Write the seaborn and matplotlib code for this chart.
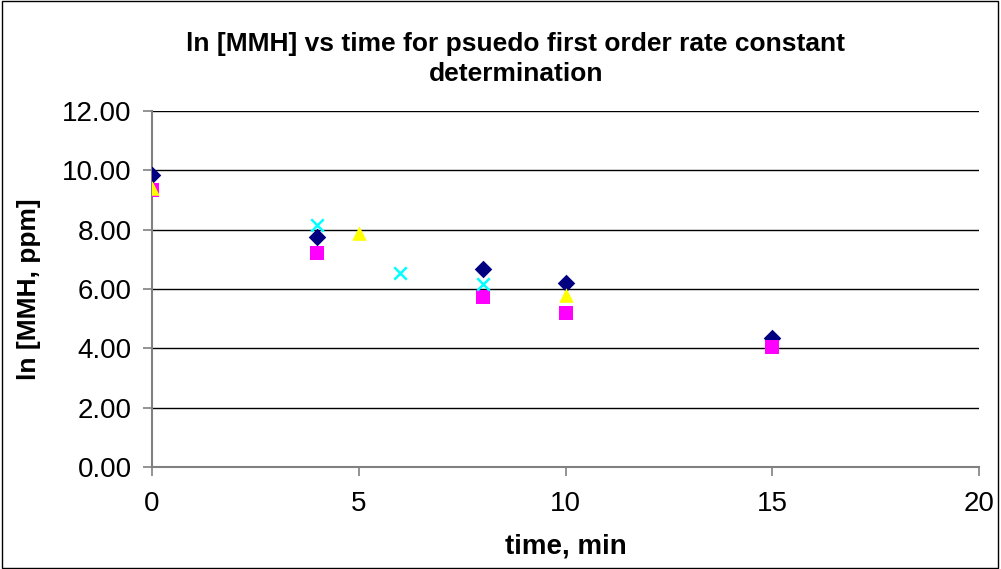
# -*- coding: utf-8 -*-
# ln[MMH] vs time scatter, recreated with seaborn
import matplotlib
matplotlib.use("Agg")
import matplotlib.pyplot as plt
import seaborn as sns
import pandas as pd

# * 1. Data
time_diamond = [0, 4, 8, 10, 15]
ln_diamond = [9.84, 7.74, 6.67, 6.20, 4.35]

time_square = [0, 4, 8, 10, 15]
ln_square = [9.34, 7.21, 5.73, 5.19, 4.04]

time_triangle = [0, 5, 10]
ln_triangle = [9.42, 7.89, 5.80]

time_cross = [4, 6, 8]
ln_cross = [8.16, 6.54, 6.17]

x_ticks = [0, 5, 10, 15, 20]
y_ticks = [0, 2, 4, 6, 8, 10, 12]

# * 2. Style
sns.set_style("white")
plt.rcParams['font.family'] = ['Liberation Sans', 'DejaVu Sans']
plt.rcParams['text.color'] = 'black'
plt.rcParams['axes.labelcolor'] = 'black'
plt.rcParams['xtick.labelcolor'] = 'black'
plt.rcParams['ytick.labelcolor'] = 'black'

fig = plt.figure(figsize=(10.01, 5.69), dpi=100)
ax = fig.add_axes([152 / 1001, 1 - 467 / 569, (979 - 152) / 1001, (467 - 111) / 569])

series = [
    (time_diamond, ln_diamond, "D", "#000080", 80),
    (time_square, ln_square, "s", "#ff00ff", 95),
    (time_triangle, ln_triangle, "^", "#ffff00", 110),
    (time_cross, ln_cross, "x", "#00ffff", 80),
]
for xs, ys, mk, col, sz in series:
    df = pd.DataFrame({"time": xs, "ln": ys})
    sns.scatterplot(data=df, x="time", y="ln", marker=mk, color=col,
                    s=sz, linewidth=1.8 if mk == "x" else 0,
                    edgecolor=col if mk != "x" else None, ax=ax, zorder=3)

# horizontal gridlines only
ax.set_axisbelow(True)
ax.yaxis.grid(True, color="black", linewidth=1)
ax.xaxis.grid(False)

ax.set_xlim(0, 20)
ax.set_ylim(0, 12)
ax.set_xticks(x_ticks)
ax.set_yticks(y_ticks)
ax.set_yticklabels([f"{v:.2f}" for v in y_ticks])
ax.tick_params(axis="both", labelsize=20, direction="out", length=6.5,
               color="#808080", labelcolor="black", width=1.2,
               bottom=True, left=True)
ax.tick_params(axis="x", pad=11)
ax.tick_params(axis="y", pad=8)

for side in ["top", "right"]:
    ax.spines[side].set_visible(False)
for side in ["left", "bottom"]:
    ax.spines[side].set_color("#808080")
    ax.spines[side].set_linewidth(1.5)

ax.set_xlabel("time, min", fontsize=20, fontweight="bold", color="black")
ax.set_ylabel("ln [MMH, ppm]", fontsize=19, fontweight="bold", color="black")
ax.xaxis.set_label_coords(0.5, -(547 - 467) / 356, transform=ax.transAxes)
ax.xaxis.label.set_va("center")
ax.yaxis.set_label_coords(-(152 - 29) / 827, 0.5, transform=ax.transAxes)
ax.yaxis.label.set_va("center")

fig.text(516 / 1001, 1 - 32 / 569,
         "ln [MMH] vs time for psuedo first order rate constant\ndetermination",
         ha="center", va="top", fontsize=19, fontweight="bold",
         linespacing=1.33, color="black")

# outer chart border
fig.patches.append(plt.Rectangle((0.002, 0.002), 0.995, 0.996, transform=fig.transFigure,
                                 fill=False, edgecolor="black", linewidth=1))

fig.savefig("out.png", dpi=100)
